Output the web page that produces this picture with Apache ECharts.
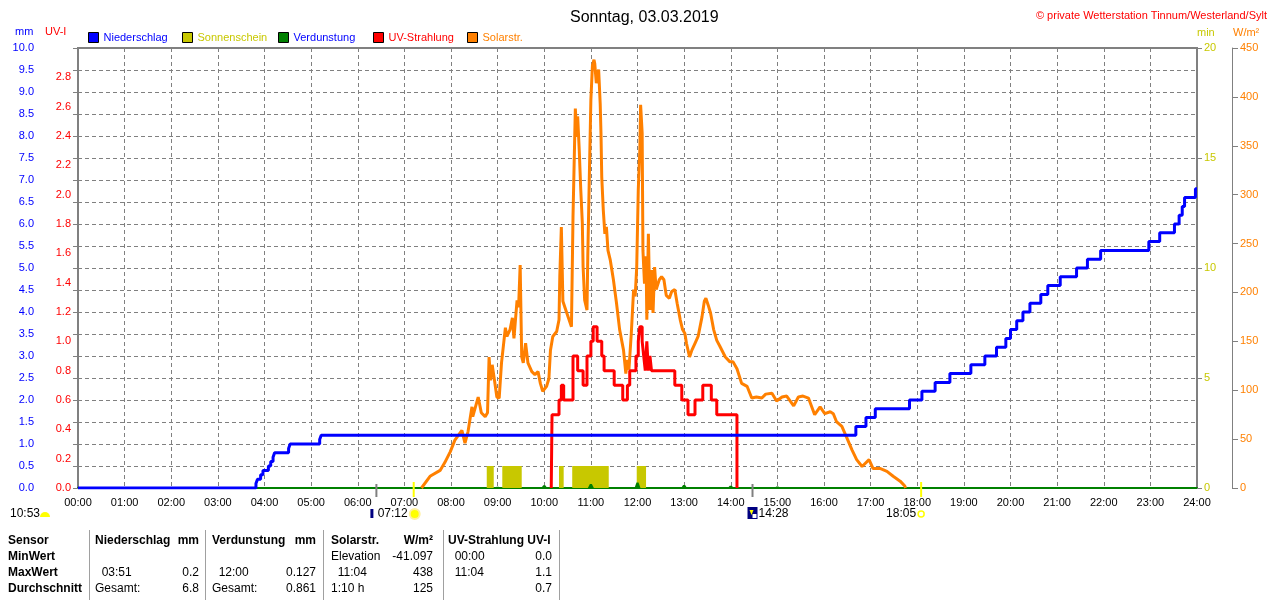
<!DOCTYPE html>
<html>
<head>
<meta charset="utf-8">
<title>Sonntag, 03.03.2019</title>
<script src="https://cdn.jsdelivr.net/npm/echarts@6/dist/echarts.min.js"></script>
<style>
    html, body { margin: 0; padding: 0; background: #fff; }
    #chartBox { width: 1280px; height: 600px; }
</style>
</head>
<body>
<div id="chartBox"></div>
<script>
// Niederschlag, kumuliert (mm)
var precipTimes = ['00:00', '03:49', '03:51', '03:55', '03:58', '04:05', '04:08', '04:11', '04:13', '04:31', '04:33',
    '05:11', '05:13', '16:41', '16:54', '17:06', '17:50', '18:06', '18:23', '18:42', '19:09', '19:27', '19:42',
    '19:54', '20:00', '20:08', '20:16', '20:25', '20:39', '20:48', '21:04', '21:25', '21:39', '21:56', '22:58',
    '23:12', '23:31', '23:37', '23:41', '23:44', '23:58', '24:00'];
var precipValues = [0, 0.1, 0.2, 0.3, 0.4, 0.5, 0.6, 0.7, 0.8, 0.9, 1.0,
    1.1, 1.2, 1.4, 1.6, 1.8, 2.0, 2.2, 2.4, 2.6, 2.8, 3.0, 3.2,
    3.4, 3.6, 3.8, 4.0, 4.2, 4.4, 4.6, 4.8, 5.0, 5.2, 5.4, 5.6,
    5.8, 6.0, 6.2, 6.4, 6.6, 6.8, 6.8];

// Sonnenschein (min), Intervalle
var sunStart = ['08:46', '09:06', '10:19', '10:36', '11:59'];
var sunEnd = ['08:55', '09:31', '10:25', '11:23', '12:11'];
var sunMinutes = [1, 1, 1, 1, 1];

// Verdunstung (mm), stuendlich
var evapTimes = ['04:00', '09:00', '10:00', '11:00', '12:00', '13:00', '14:00', '15:00', '16:00', '17:00', '18:00'];
var evapValues = [0.01, 0.03, 0.06, 0.09, 0.127, 0.07, 0.05, 0.035, 0.025, 0.015, 0.01];

// UV-Strahlung (UV-I)
var uvTimes = ['10:09', '10:10', '10:19', '10:22', '10:25', '10:37', '10:43', '10:50', '10:55', '11:00', '11:03',
    '11:08', '11:14', '11:17', '11:30', '11:41', '11:47', '11:50', '11:58', '12:01', '12:03', '12:06', '12:08',
    '12:10', '12:12', '12:14', '12:16', '12:18', '12:48', '12:57', '13:05', '13:14', '13:24', '13:35', '13:42',
    '14:08'];
var uvValues = [0, 0.5, 0.6, 0.7, 0.6, 0.9, 0.8, 0.7, 0.9, 1.0, 1.1,
    1.0, 0.9, 0.8, 0.7, 0.6, 0.7, 0.8, 0.9, 1.0, 1.1, 1.0, 0.9,
    0.8, 1.0, 0.8, 0.9, 0.8, 0.7, 0.6, 0.5, 0.6, 0.7, 0.6, 0.5,
    0];

// Solarstrahlung (W/m2)
var solarTimes = ['07:22', '07:33', '07:46', '07:52', '07:59', '08:05', '08:14', '08:18', '08:22', '08:27', '08:28',
    '08:35', '08:39', '08:44', '08:47', '08:49', '08:51', '08:53', '08:56', '08:59', '09:02', '09:05', '09:10',
    '09:12', '09:16', '09:19', '09:21', '09:25', '09:27', '09:29', '09:31', '09:33', '09:36', '09:39', '09:44',
    '09:48', '09:52', '09:55', '09:58', '10:03', '10:06', '10:08', '10:11', '10:16', '10:19', '10:20', '10:22',
    '10:24', '10:29', '10:35', '10:37', '10:40', '10:42', '10:43', '10:45', '10:47', '10:49', '10:50', '10:52',
    '10:55', '10:56', '10:58', '11:00', '11:02', '11:04', '11:05', '11:07', '11:10', '11:12', '11:13', '11:14',
    '11:16', '11:18', '11:20', '11:22', '11:25', '11:29', '11:33', '11:37', '11:42', '11:45', '11:47', '11:49',
    '11:52', '11:55', '11:57', '11:59', '12:01', '12:03', '12:04', '12:06', '12:07', '12:09', '12:11', '12:12',
    '12:14', '12:16', '12:18', '12:20', '12:22', '12:24', '12:28', '12:31', '12:34', '12:37', '12:41', '12:44',
    '12:48', '12:51', '12:55', '12:58', '13:01', '13:03', '13:07', '13:10', '13:14', '13:18', '13:23', '13:26',
    '13:28', '13:31', '13:34', '13:38', '13:42', '13:46', '13:53', '13:59', '14:03', '14:08', '14:14', '14:21',
    '14:27', '14:33', '14:40', '14:45', '14:53', '14:59', '15:06', '15:12', '15:21', '15:27', '15:33', '15:40',
    '15:48', '15:55', '16:01', '16:08', '16:12', '16:16', '16:23', '16:29', '16:36', '16:42', '16:49', '16:58',
    '17:03', '17:12', '17:21', '17:29', '17:38', '17:44', '17:45'];
var solarValues = [0, 12, 18, 26, 37, 49, 59, 46, 58, 83, 73,
    93, 77, 73, 77, 134, 110, 126, 110, 93, 92, 128, 164,
    155, 162, 174, 153, 192, 185, 228, 134, 128, 148, 128, 119,
    116, 119, 107, 99, 104, 112, 141, 155, 160, 172, 216, 267,
    191, 179, 165, 277, 388, 359, 380, 346, 305, 271, 226, 192,
    182, 236, 318, 397, 432, 438, 434, 414, 428, 393, 363, 318,
    284, 260, 267, 243, 233, 213, 189, 162, 141, 117, 131, 121,
    158, 203, 196, 226, 305, 346, 392, 363, 243, 209, 237, 172,
    260, 182, 223, 179, 226, 203, 213, 216, 213, 197, 194, 201,
    203, 189, 172, 162, 158, 148, 134, 141, 148, 155, 175, 191,
    194, 187, 179, 162, 151, 145, 134, 129, 129, 122, 107, 104,
    92, 93, 92, 96, 97, 89, 93, 94, 84, 93, 94, 92,
    75, 83, 76, 78, 76, 68, 63, 52, 39, 29, 22, 29,
    20, 20, 17, 12, 7, 2, 0];

// Sonne / Mond
var sunRiseSet = ['07:12', '18:05'];
var moonRiseSet = ['06:24', '14:28'];
var dayLength = '10:53';

// Tabelle unten
var tableRows = [
    ['Sensor', 'Niederschlag', 'mm', 'Verdunstung', 'mm', 'Solarstr.', 'W/m²', 'UV-Strahlung UV-I', ''],
    ['MinWert', '', '', '', '', 'Elevation', '-41.097', '  00:00', '0.0'],
    ['MaxWert', '  03:51', '0.2', '  12:00', '0.127', '  11:04', '438', '  11:04', '1.1'],
    ['Durchschnitt', 'Gesamt:', '6.8', 'Gesamt:', '0.861', '1:10 h', '125', '', '0.7']
];

var FONT = '"Liberation Sans", Arial, sans-serif';

function toHours(t) {
    var p = t.split(':');
    return +p[0] + p[1] / 60;
}
function pairs(times, values) {
    var res = [];
    for (var i = 0; i < times.length; i++) {
        res.push([toHours(times[i]), values[i]]);
    }
    return res;
}
function pad(n) {
    return (n < 10 ? '0' : '') + n;
}

var myChart = echarts.init(document.getElementById('chartBox'));

var sunData = [];
for (var i = 0; i < sunStart.length; i++) {
    sunData.push([toHours(sunStart[i]), toHours(sunEnd[i]), sunMinutes[i]]);
}

var option = {
    animation: false,
    textStyle: { fontFamily: FONT },
    title: [
        {
            text: 'Sonntag, 03.03.2019',
            left: 565, top: 5,
            textStyle: { fontSize: 16, fontWeight: 'normal', color: '#000', fontFamily: FONT }
        },
        {
            text: '© private Wetterstation Tinnum/Westerland/Sylt',
            right: 8, top: 5,
            textStyle: { fontSize: 11, fontWeight: 'normal', color: '#ff0000', fontFamily: FONT }
        }
    ],
    legend: [
        { left: 88, data: ['Niederschlag'], textStyle: { color: '#0000ff' } },
        { left: 182, data: ['Sonnenschein'], textStyle: { color: '#c8c800' } },
        { left: 278, data: ['Verdunstung'], textStyle: { color: '#0000ff' } },
        { left: 373, data: ['UV-Strahlung'], textStyle: { color: '#ff0000' } },
        { left: 467, data: ['Solarstr.'], textStyle: { color: '#ff8000' } }
    ].map(function (l) {
        l.top = 32;
        l.padding = 0;
        l.icon = 'rect';
        l.itemWidth = 10;
        l.itemHeight = 10;
        l.selectedMode = false;
        l.itemStyle = { borderColor: '#000', borderWidth: 1 };
        l.textStyle.fontSize = 11;
        l.textStyle.fontFamily = FONT;
        return l;
    }),
    grid: {
        left: 78, right: 83, top: 48, bottom: 112,
        show: true, borderColor: '#808080', borderWidth: 2
    },
    xAxis: {
        type: 'value', min: 0, max: 24, interval: 1,
        axisLine: { show: true, onZero: false, lineStyle: { color: '#008000', width: 2 } },
        axisTick: { show: false },
        axisLabel: {
            color: '#000', fontSize: 11, margin: 9,
            formatter: function (v) { return pad(v) + ':00'; }
        },
        splitLine: { show: true, lineStyle: { color: '#808080', type: [4, 3] } }
    },
    yAxis: [
        { // mm
            type: 'value', min: 0, max: 10, interval: 0.5, position: 'left', offset: 37,
            axisLine: { show: true, lineStyle: { color: '#808080' } },
            axisTick: { show: true, length: 5, lineStyle: { color: '#808080' } },
            axisLabel: { color: '#0000ff', fontSize: 11, margin: 7, formatter: function (v) { return v.toFixed(1); } },
            splitLine: { show: true, lineStyle: { color: '#808080', type: [4, 3] } }
        },
        { // UV-I
            type: 'value', min: 0, max: 3, interval: 0.2, position: 'left', offset: 0,
            axisLine: { show: false }, axisTick: { show: false },
            axisLabel: { color: '#ff0000', fontSize: 11, margin: 7, showMaxLabel: false,
                formatter: function (v) { return v.toFixed(1); } },
            splitLine: { show: false }
        },
        { // min
            type: 'value', min: 0, max: 20, interval: 5, position: 'right', offset: 0,
            axisLine: { show: false },
            axisTick: { show: true, length: 5, lineStyle: { color: '#808080' } },
            axisLabel: { color: '#c8c800', fontSize: 11, margin: 7 },
            splitLine: { show: false }
        },
        { // W/m2
            type: 'value', min: 0, max: 450, interval: 50, position: 'right', offset: 35,
            axisLine: { show: true, lineStyle: { color: '#808080' } },
            axisTick: { show: true, length: 6, lineStyle: { color: '#808080' } },
            axisLabel: { color: '#ff8000', fontSize: 11, margin: 8 },
            splitLine: { show: false }
        }
    ],
    series: [
        {
            name: 'Sonnenschein', type: 'custom', yAxisIndex: 2, z: 1, clip: true,
            itemStyle: { color: '#c8c800' },
            encode: { x: [0, 1], y: 2 },
            data: sunData,
            renderItem: function (params, api) {
                var p0 = api.coord([api.value(0), 0]);
                var p1 = api.coord([api.value(1), api.value(2)]);
                return {
                    type: 'rect',
                    shape: { x: p0[0], y: p1[1], width: p1[0] - p0[0], height: p0[1] - p1[1] },
                    style: { fill: '#c8c800' }
                };
            }
        },
        {
            name: 'Solarstr.', type: 'line', yAxisIndex: 3, z: 2,
            showSymbol: false, silent: true,
            itemStyle: { color: '#ff8000' },
            lineStyle: { color: '#ff8000', width: 3 },
            data: pairs(solarTimes, solarValues)
        },
        {
            name: 'UV-Strahlung', type: 'line', step: 'end', yAxisIndex: 1, z: 3,
            showSymbol: false, silent: true,
            itemStyle: { color: '#ff0000' },
            lineStyle: { color: '#ff0000', width: 3 },
            data: pairs(uvTimes, uvValues)
        },
        {
            name: 'Niederschlag', type: 'line', step: 'end', yAxisIndex: 0, z: 4,
            showSymbol: false, silent: true,
            itemStyle: { color: '#0000ff' },
            lineStyle: { color: '#0000ff', width: 3 },
            data: pairs(precipTimes, precipValues)
        },
        {
            name: 'Verdunstung', type: 'custom', yAxisIndex: 0, z: 5, clip: true,
            itemStyle: { color: '#008000' },
            encode: { x: 0, y: 1 },
            data: pairs(evapTimes, evapValues),
            renderItem: function (params, api) {
                var top = api.coord([api.value(0), api.value(1)]);
                var base = api.coord([api.value(0), 0]);
                return {
                    type: 'polygon',
                    shape: { points: [[base[0] - 3, base[1]], [base[0] - 1, top[1]], [base[0] + 1, top[1]], [base[0] + 3, base[1]]] },
                    style: { fill: '#008000' }
                };
            }
        }
    ]
};
myChart.setOption(option);

// Zusatzgrafik: Achsentitel, Sonne/Mond, Tabelle
var graphic = [];
function txt(x, y, s, color, opts) {
    opts = opts || {};
    graphic.push({
        type: 'text', silent: true, z: 100,
        style: {
            x: x, y: y, text: s, fill: color,
            fontSize: opts.size || 11, fontFamily: FONT, fontWeight: opts.bold ? 'bold' : 'normal',
            align: opts.align || 'left', verticalAlign: 'middle'
        }
    });
}

txt(15, 32, 'mm', '#0000ff');
txt(45, 32, 'UV-I', '#ff0000');
txt(1197, 33, 'min', '#c8c800');
txt(1233, 33, 'W/m²', '#ff8000');

var baseY = myChart.convertToPixel({ yAxisIndex: 0 }, 0);
function xOf(t) {
    return myChart.convertToPixel({ xAxisIndex: 0 }, toHours(t));
}

// Mond-Marken
moonRiseSet.forEach(function (t) {
    var x = xOf(t);
    graphic.push({ type: 'line', silent: true, z: 100, shape: { x1: x, y1: baseY - 4, x2: x, y2: baseY + 9 },
        style: { stroke: '#808080', lineWidth: 2 } });
});
// Sonnen-Marken
sunRiseSet.forEach(function (t) {
    var x = xOf(t);
    graphic.push({ type: 'line', silent: true, z: 100, shape: { x1: x, y1: baseY - 6, x2: x, y2: baseY + 9 },
        style: { stroke: '#ffff00', lineWidth: 2 } });
});

var mr = xOf(moonRiseSet[0]);
graphic.push({ type: 'rect', silent: true, z: 100, shape: { x: mr - 6, y: 509, width: 3, height: 9 },
    style: { fill: '#000080' } });
var sr = xOf(sunRiseSet[0]);
txt(sr - 6, 514, sunRiseSet[0], '#000', { size: 12, align: 'right' });
graphic.push({ type: 'circle', silent: true, z: 100, shape: { cx: sr + 1, cy: 514, r: 5 },
    style: { fill: '#ffff00', stroke: '#fff0a0', lineWidth: 2 } });

var ms = xOf(moonRiseSet[1]);
graphic.push({ type: 'rect', silent: true, z: 100, shape: { x: ms - 5, y: 507, width: 10, height: 12 },
    style: { fill: '#000080' } });
graphic.push({ type: 'polygon', silent: true, z: 101, shape: { points: [[ms - 3, 510], [ms + 1, 510], [ms - 1, 515]] },
    style: { fill: '#ffff00' } });
graphic.push({ type: 'rect', silent: true, z: 101, shape: { x: ms, y: 514, width: 4, height: 4 },
    style: { fill: '#ffffff' } });
txt(ms + 6, 514, moonRiseSet[1], '#000', { size: 12 });

var ss = xOf(sunRiseSet[1]);
txt(ss - 5, 514, sunRiseSet[1], '#000', { size: 12, align: 'right' });
graphic.push({ type: 'circle', silent: true, z: 100, shape: { cx: ss, cy: 514, r: 3 },
    style: { fill: '#fff', stroke: '#ffff00', lineWidth: 1.5 } });

txt(10, 514, dayLength, '#000', { size: 12 });
graphic.push({ type: 'sector', silent: true, z: 100,
    shape: { cx: 45, cy: 517, r: 5, startAngle: Math.PI, endAngle: Math.PI * 2 },
    style: { fill: '#ffff00' } });

// Tabelle
var colX = [8, 95, 199, 212, 316, 331, 433, 448, 552];
var colAlign = ['left', 'left', 'right', 'left', 'right', 'left', 'right', 'left', 'right'];
var rowY = [541, 557, 573, 589];
tableRows.forEach(function (row, r) {
    row.forEach(function (cell, c) {
        if (!cell) return;
        txt(colX[c], rowY[r], cell, '#000', { size: 12, bold: r === 0 || c === 0, align: colAlign[c] });
    });
});
[89, 205, 323, 443, 559].forEach(function (x) {
    graphic.push({ type: 'line', silent: true, z: 100, shape: { x1: x + 0.5, y1: 530, x2: x + 0.5, y2: 600 },
        style: { stroke: '#a0a0a0', lineWidth: 1 } });
});

myChart.setOption({ graphic: graphic });

window.addEventListener('resize', function () {
    myChart.resize();
});
</script>
</body>
</html>
